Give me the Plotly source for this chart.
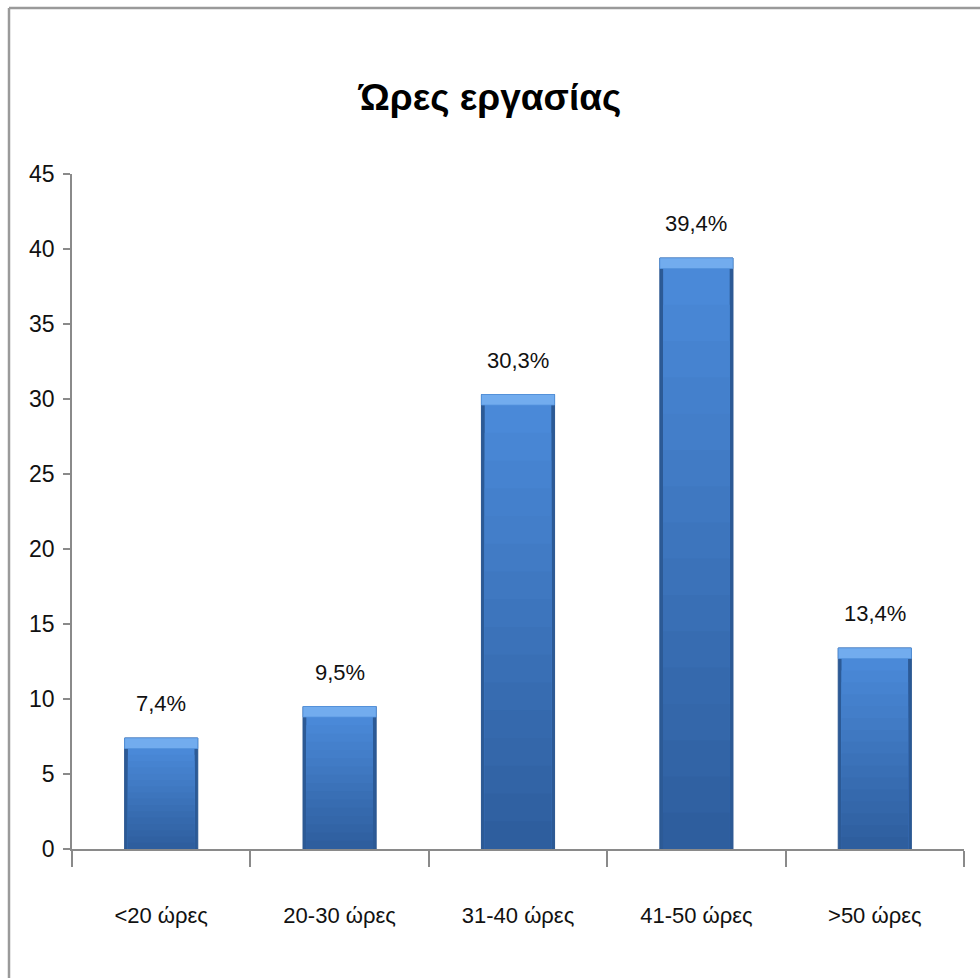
import plotly.graph_objects as go

# Working-hours distribution (percent of respondents)
categories = ["<20 ώρες", "20-30 ώρες", "31-40 ώρες", "41-50 ώρες", ">50 ώρες"]
values = [7.4, 9.5, 30.3, 39.4, 13.4]
y_ticks = [0, 5, 10, 15, 20, 25, 30, 35, 40, 45]

value_labels = [f"{v:.1f}".replace(".", ",") + "%" for v in values]

FONT = "Liberation Sans, Arial, sans-serif"
W, H = 980, 978
L, R, T, B = 72, 16, 174, 129
BAR_W = 0.41
BEVEL = 0.7   # height of the light top edge, in axis units
STEPS = 16    # bands used for the vertical shading of the bars

TOP_RGB = (74, 137, 216)
BOTTOM_RGB = (46, 94, 158)


def mix(a, b, t):
    return "rgb({},{},{})".format(*[round(a[i] + (b[i] - a[i]) * t) for i in range(3)])


fig = go.Figure()

# bar outline / dark side edges
fig.add_trace(go.Bar(
    x=categories, y=values, width=BAR_W,
    marker=dict(color="#2c5a96", line=dict(color="#2a5690", width=1)),
    hoverinfo="skip", showlegend=False,
))
# vertical shading: light near the top, darker toward the base
for i in range(STEPS):
    frac = 1 - i / STEPS
    fig.add_trace(go.Bar(
        x=categories, y=[(v - BEVEL) * frac for v in values], width=BAR_W * 0.91,
        marker=dict(color=mix(TOP_RGB, BOTTOM_RGB, i / (STEPS - 1)), line=dict(width=0)),
        hoverinfo="skip", showlegend=False,
    ))
# light bevel along the top of each bar
fig.add_trace(go.Bar(
    x=categories, y=[BEVEL] * len(values), base=[v - BEVEL for v in values],
    width=BAR_W,
    marker=dict(color="#72acee", line=dict(color="#5596e0", width=0.8)),
    hoverinfo="skip", showlegend=False,
))

# value labels above the bars
for c, v, t in zip(categories, values, value_labels):
    fig.add_annotation(
        x=c, y=v, text=t, showarrow=False, yanchor="bottom", yshift=20,
        font=dict(family=FONT, size=22, color="#111111"),
    )

# chart frame
pw, ph = W - L - R, H - T - B
fx = (9 - L) / pw
fy = (H - B - 8) / ph
fig.add_shape(type="line", xref="paper", yref="paper", x0=fx, x1=(W - L) / pw + 0.01,
              y0=fy, y1=fy, line=dict(color="#9a9a9a", width=2.5))
fig.add_shape(type="line", xref="paper", yref="paper", x0=fx, x1=fx,
              y0=fy, y1=-(B + 5) / ph, line=dict(color="#9a9a9a", width=2.5))

fig.update_layout(
    width=W, height=H,
    margin=dict(l=L, r=R, t=T, b=B),
    paper_bgcolor="white", plot_bgcolor="white",
    barmode="overlay",
    title=dict(text="<b>Ώρες εργασίας</b>", x=0.5, xanchor="center",
               y=1 - 97 / H, yanchor="middle",
               font=dict(family=FONT, size=37, color="#000000")),
    font=dict(family=FONT, color="#111111"),
    xaxis=dict(
        type="category", range=[-0.5, 4.5],
        showline=True, linecolor="#8a8a8a", linewidth=1.5,
        ticks="outside", ticklen=16, tickcolor="#8a8a8a", tickwidth=1.5,
        tickson="boundaries", showgrid=False, zeroline=False,
        tickfont=dict(family=FONT, size=22, color="#111111"),
        ticklabelstandoff=46,
    ),
    yaxis=dict(
        range=[0, 45], tickvals=y_ticks,
        showline=True, linecolor="#8a8a8a", linewidth=1.5,
        ticks="outside", ticklen=7, tickcolor="#8a8a8a", tickwidth=1.5,
        showgrid=False, zeroline=False,
        tickfont=dict(family=FONT, size=23, color="#111111"),
        ticklabelstandoff=4,
    ),
)

fig.write_html("out.html")
